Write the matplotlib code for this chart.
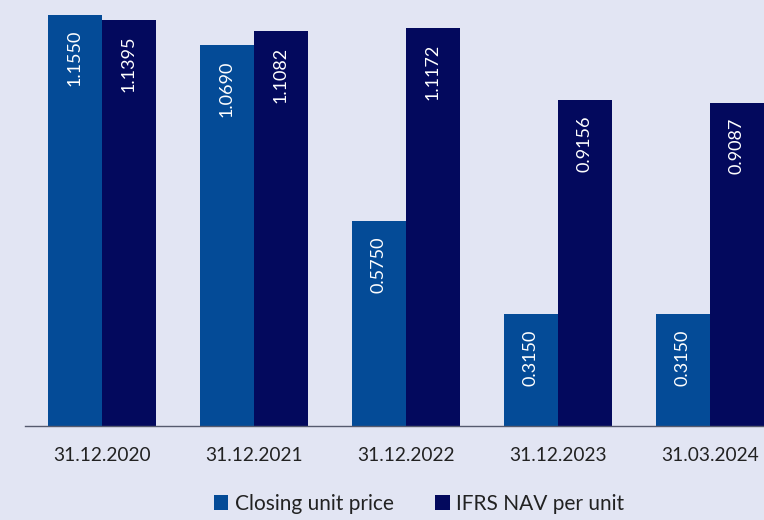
import numpy as np
import matplotlib.pyplot as plt

# data
dates = ["31.12.2020", "31.12.2021", "31.12.2022", "31.12.2023", "31.03.2024"]
closing_price = [1.1550, 1.0690, 0.5750, 0.3150, 0.3150]
nav_per_unit = [1.1395, 1.1082, 1.1172, 0.9156, 0.9087]

bg = "#e2e5f3"
c_close = "#044b97"
c_nav = "#03095d"

plt.rcParams['font.family'] = ['Lato', 'DejaVu Sans']

fig = plt.figure(figsize=(7.64, 5.20), dpi=100, facecolor=bg)
ax = fig.add_axes([25 / 764, 94 / 520, 739 / 764, 426 / 520])
ax.set_facecolor(bg)

x = np.arange(len(dates))
w = 54 / 152
b1 = ax.bar(x - w / 2, closing_price, w, color=c_close, label="Closing unit price")
b2 = ax.bar(x + w / 2, nav_per_unit, w, color=c_nav, label="IFRS NAV per unit")

# value labels, rotated, inside top of each bar
for bars, vals in [(b1, closing_price), (b2, nav_per_unit)]:
    for rect, v in zip(bars, vals):
        ax.annotate(f"{v:.4f}", (rect.get_x() + rect.get_width() / 2, v),
                    xytext=(0, -11), textcoords="offset points",
                    ha="center", va="top", rotation=90, color="white", fontsize=13)

ax.set_xlim(-77 / 152, 662 / 152)
ax.set_ylim(0, 426 / 356)
ax.set_xticks(x)
ax.set_xticklabels(dates, fontsize=13.8, color="#222222")
ax.tick_params(axis="x", length=0, pad=15)
ax.set_yticks([])
for s in ["top", "right", "left"]:
    ax.spines[s].set_visible(False)
ax.spines["bottom"].set_color("#555a6e")
ax.spines["bottom"].set_linewidth(1)

# legend sits at the very bottom edge, as in the reference
fig.legend(loc="lower center", bbox_to_anchor=(419 / 764, -5 / 520), ncol=2, frameon=False,
           fontsize=15, handlelength=0.7, handleheight=0.7, handletextpad=0.3,
           columnspacing=2.0, labelcolor="#222222", borderpad=0.05)

fig.savefig("out.png", dpi=100, facecolor=bg)
